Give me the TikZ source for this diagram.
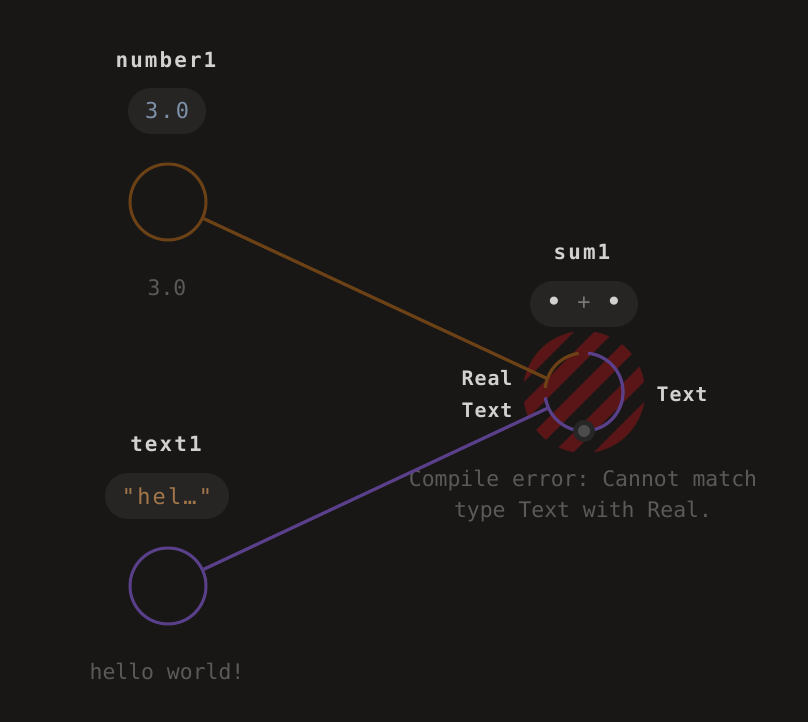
\documentclass[tikz,border=0pt]{standalone}
\usepackage{fontspec}
\setmonofont{DejaVu Sans Mono}
\newfontfamily\widemono[LetterSpace=10]{DejaVu Sans Mono}
\newfontfamily\labelmono[LetterSpace=5]{DejaVu Sans Mono}
\usepackage{tikz}
\usepackage{xcolor}

\definecolor{bgcol}{HTML}{181716}
\definecolor{titlecol}{HTML}{D2D1CF}
\definecolor{pillcol}{HTML}{262524}
\definecolor{realcol}{HTML}{7D91A8}
\definecolor{textcol}{HTML}{A2774A}
\definecolor{notecol}{HTML}{5C5A58}
\definecolor{realwire}{HTML}{6B4115}
\definecolor{textwire}{HTML}{5A3F8A}
\definecolor{stripecol}{HTML}{5A1616}
\definecolor{pluscol}{HTML}{7A7876}

\newcommand\bigdot{\raisebox{-2.5bp}{\fontsize{28}{24}\selectfont•}}

\begin{document}
\begin{tikzpicture}[x=1bp, y=1bp,
    title/.style={font=\widemono\bfseries\fontsize{21}{24}\selectfont, text=titlecol},
    pill/.style={fill=pillcol, rounded corners=23bp, minimum height=46bp, inner sep=0pt,
      font=\widemono\fontsize{22}{24}\selectfont},
    port/.style={circle, line width=3bp, minimum size=76bp, inner sep=0pt},
    note/.style={font=\ttfamily\fontsize{21.5}{31}\selectfont, text=notecol, align=center},
    plabel/.style={font=\labelmono\bfseries\fontsize{20}{24}\selectfont, text=titlecol},
    wire/.style={line width=3.2bp}]
    \fill[bgcol] (0,0) rectangle (808,722);
    \useasboundingbox (0,0) rectangle (808,722);

    % number1
    \node[title] (num1title) at (166,662) {number1};
    \node[pill, minimum width=78bp, text=realcol] (num1pill) at (167,611) {3.0};
    \node[port, draw=realwire] (num1port) at (168,520) {};
    \node[note] (num1value) at (167,434) {3.0};

    % text1
    \node[title] (text1title) at (166,278) {text1};
    \node[pill, minimum width=124bp, text=textcol] (text1pill) at (167,226) {"hel…"};
    \node[port, draw=textwire] (text1port) at (168,136) {};
    \node[note] (text1value) at (167,51) {hello world!};

    % sum1
    \node[title] (sumtitle) at (582,470) {sum1};
    \node[pill, minimum width=108bp, text=titlecol] (sumpill) at (584,418)
      {\bigdot\hspace{15bp}\textcolor{pluscol}{+}\hspace{15bp}\bigdot};
    \node[circle, minimum size=78bp, inner sep=0pt, outer sep=0pt] (sumport) at (584,330) {};
    \begin{scope}
      \clip (sumport.center) circle[radius=61];
      \foreach \k in {-4,...,4}
        \draw[stripecol, line width=14bp] ([shift={(\k*20-80,-\k*20-80)}]sumport.center) -- ++(160,160);
    \end{scope}
    \draw[realwire, wire] ([shift={(98:39)}]sumport.center) arc[start angle=98, end angle=174, radius=39];
    \draw[textwire, wire] ([shift={(188:39)}]sumport.center) arc[start angle=188, end angle=256, radius=39];
    \draw[textwire, wire] ([shift={(284:39)}]sumport.center) arc[start angle=284, end angle=444, radius=39];
    \node[circle, fill=black!85, minimum size=22bp, inner sep=0pt] (sumout) at (sumport.south) {};
    \node[circle, fill=black!70!white, minimum size=12bp, inner sep=0pt] at (sumout) {};
    \node[plabel] (reallabel) at (487,344) {Real};
    \node[plabel] (textlabel) at (487,312) {Text};
    \node[plabel] (outlabel) at (682,328) {Text};
    \node[note] (sumerror) at (583,226) {Compile error: Cannot match\\type Text with Real.};

    % wires
    \draw[realwire, wire] (num1port) -- (sumport.160);
    \draw[textwire, wire] (text1port) -- (sumport.204);
\end{tikzpicture}
\end{document}
